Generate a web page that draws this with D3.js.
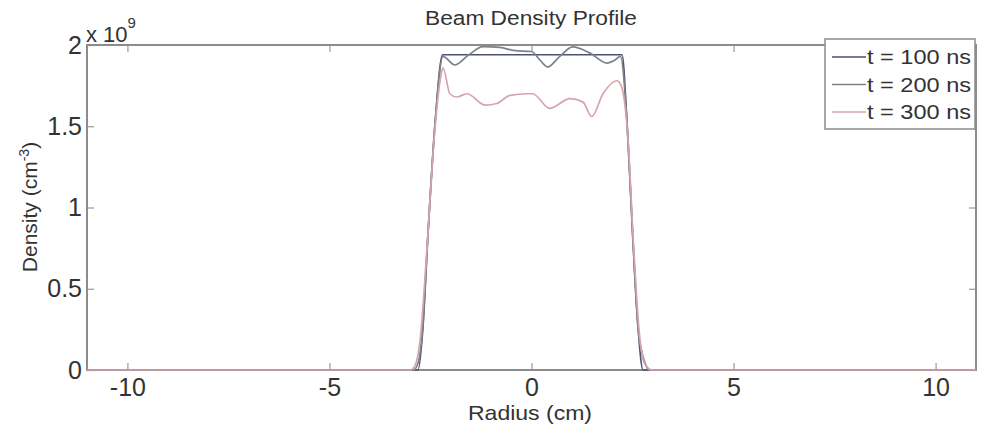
<!DOCTYPE html>
<html>
<head>
<meta charset="utf-8">
<style>
  body { margin: 0; background: #fff; }
  svg text { font-family: "Liberation Sans", Arial, sans-serif; fill: #333; }
</style>
</head>
<body>
<svg id="chart" width="981" height="432"></svg>
<script src="https://cdn.jsdelivr.net/npm/d3@7"></script>
<script>
// data (density in units of 1e9 cm^-3)
var xTicks = [-10, -5, 0, 5, 10];
var yTicks = [0, 0.5, 1, 1.5, 2];
var seriesNames = ["t = 100 ns", "t = 200 ns", "t = 300 ns"];

var r100 = [-11, -2.81, -2.69, -2.57, -2.38, -2.2, 2.24, 2.36, 2.51, 2.64, 2.76, 11];
var d100 = [0, 0, 0.25, 0.8, 1.54, 1.94, 1.94, 1.54, 0.8, 0.25, 0, 0];

var r200 = [-11, -2.92, -2.8, -2.69, -2.57, -2.38, -2.19, -1.9, -1.55, -1.2, -0.78, -0.41, 0.0, 0.2, 0.4, 0.7, 1.02, 1.45, 1.87, 2.05, 2.2, 2.36, 2.51, 2.64, 2.8, 2.92, 11];
var d200 = [0, 0, 0.05, 0.27, 0.8, 1.54, 1.93, 1.877, 1.94, 1.99, 1.985, 1.965, 1.96, 1.91, 1.865, 1.93, 1.988, 1.95, 1.889, 1.905, 1.93, 1.54, 0.8, 0.25, 0.05, 0, 0];

var r300 = [-11, -3.0, -2.88, -2.75, -2.6, -2.4, -2.25, -2.19, -2.02, -1.85, -1.6, -1.15, -0.86, -0.53, -0.11, 0.03, 0.45, 0.95, 1.27, 1.49, 1.77, 2.11, 2.22, 2.38, 2.53, 2.66, 2.8, 2.98, 11];
var d300 = [0, 0, 0.03, 0.2, 0.7, 1.45, 1.8, 1.86, 1.70, 1.68, 1.70, 1.63, 1.64, 1.69, 1.70, 1.70, 1.61, 1.67, 1.65, 1.56, 1.70, 1.78, 1.75, 1.45, 0.75, 0.25, 0.04, 0, 0];

var colors = ["#4b5275", "#7f8188", "#d6a4ab"];

var svg = d3.select("#chart");
var mLeft = 87, mTop = 45, mRight = 976, mBottom = 370;

var x = d3.scaleLinear().domain([-11, 11]).range([mLeft, mRight]);
var y = d3.scaleLinear().domain([0, 2]).range([mBottom, mTop]);

var series = [
  { name: seriesNames[0], r: r100, d: d100 },
  { name: seriesNames[1], r: r200, d: d200 },
  { name: seriesNames[2], r: r300, d: d300 }
];

// axes (ticks pointing inward, like matlab)
function styleAxis(g) {
  g.select(".domain").remove();
  g.selectAll(".tick line").attr("stroke", "#999").attr("stroke-width", 1.2);
  g.selectAll(".tick text").style("font-size", "25px").attr("fill", "#333");
}
var plain = function(d) { return String(d); };

svg.append("g").attr("transform", "translate(0," + mBottom + ")")
  .call(d3.axisBottom(x).tickValues(xTicks).tickSizeInner(-7).tickSizeOuter(0).tickPadding(8).tickFormat(plain))
  .call(styleAxis);
svg.append("g").attr("transform", "translate(0," + mTop + ")")
  .call(d3.axisTop(x).tickValues(xTicks).tickSizeInner(-7).tickSizeOuter(0).tickFormat(""))
  .call(styleAxis);
svg.append("g").attr("transform", "translate(" + mLeft + ",0)")
  .call(d3.axisLeft(y).tickValues(yTicks).tickSizeInner(-7).tickSizeOuter(0).tickPadding(5).tickFormat(plain))
  .call(styleAxis);
svg.append("g").attr("transform", "translate(" + mRight + ",0)")
  .call(d3.axisRight(y).tickValues(yTicks).tickSizeInner(-7).tickSizeOuter(0).tickFormat(""))
  .call(styleAxis);

svg.append("rect")
  .attr("x", mLeft).attr("y", mTop)
  .attr("width", mRight - mLeft).attr("height", mBottom - mTop)
  .attr("fill", "none").attr("stroke", "#8c8c8c").attr("stroke-width", 2);

// curves
var line = d3.line()
  .x(function(p) { return x(p[0]); })
  .y(function(p) { return y(p[1]); })
  .curve(d3.curveMonotoneX);

series.forEach(function(s, i) {
  svg.append("path")
    .datum(d3.zip(s.r, s.d))
    .attr("d", line)
    .attr("fill", "none")
    .attr("stroke", colors[i])
    .attr("stroke-width", 1.7);
});

// title and labels
svg.append("text").attr("x", 531).attr("y", 25).attr("text-anchor", "middle")
  .attr("textLength", 212).attr("lengthAdjust", "spacingAndGlyphs")
  .style("font-size", "20px").text("Beam Density Profile");

svg.append("text").attr("x", 530).attr("y", 420).attr("text-anchor", "middle")
  .attr("textLength", 124).attr("lengthAdjust", "spacingAndGlyphs")
  .style("font-size", "21px").text("Radius (cm)");

var yl = svg.append("text").attr("transform", "translate(37,207) rotate(-90)")
  .attr("text-anchor", "middle").style("font-size", "21px");
yl.append("tspan").text("Density (cm");
yl.append("tspan").attr("dy", -8).style("font-size", "14px").text("-3");
yl.append("tspan").attr("dy", 8).text(")");

var ex = svg.append("text").attr("x", 86).attr("y", 42).style("font-size", "22px");
ex.append("tspan").text("x 10");
ex.append("tspan").attr("dy", -14).style("font-size", "15px").text("9");

// legend
var lg = svg.append("g");
lg.append("rect").attr("x", 825).attr("y", 39).attr("width", 150).attr("height", 90)
  .attr("fill", "#fff").attr("stroke", "#8c8c8c").attr("stroke-width", 1.5);
series.forEach(function(s, i) {
  var yy = 57 + i * 27.5;
  lg.append("line").attr("x1", 832).attr("x2", 866).attr("y1", yy).attr("y2", yy)
    .attr("stroke", colors[i]).attr("stroke-width", 1.5);
  lg.append("text").attr("x", 867).attr("y", yy + 7)
    .attr("textLength", 104).attr("lengthAdjust", "spacingAndGlyphs")
    .style("font-size", "20px").text(s.name);
});
</script>
</body>
</html>
